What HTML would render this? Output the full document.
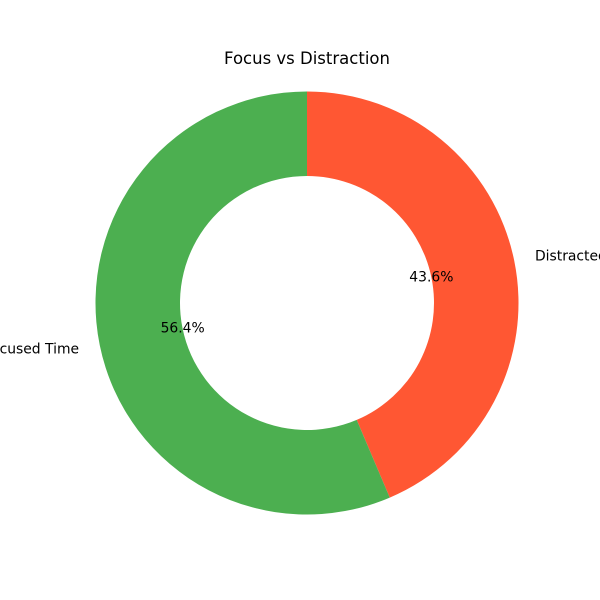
<!DOCTYPE html>
<html><head><meta charset="utf-8"><style>
html,body{margin:0;padding:0;background:#fff;}
svg{display:block;font-family:"DejaVu Sans","Liberation Sans",sans-serif;}
</style></head><body>
<svg id="chart" width="600" height="600" viewBox="0 0 600 600">
<text x="307" y="64" text-anchor="middle" font-size="16.5" fill="#000">Focus vs Distraction</text>
<g id="slices"></g>
</svg>
<script>
const categories = ["Distracted Time", "Focused Time"];
const values = [43.6, 56.4];
const colors = ["#FF5733", "#4CAF50"];

const cx = 307, cy = 303, R = 211.5, r = 127;
const total = values.reduce((a, b) => a + b, 0);
const g = document.getElementById('slices');
const ns = 'http://www.w3.org/2000/svg';
function pt(rad, ang) { return [cx + rad * Math.cos(ang), cy - rad * Math.sin(ang)]; }
let start = Math.PI / 2;
values.forEach((v, i) => {
  const sweep = v / total * 2 * Math.PI;
  const end = start - sweep;
  const large = sweep > Math.PI ? 1 : 0;
  const [x1, y1] = pt(R, start), [x2, y2] = pt(R, end);
  const [x3, y3] = pt(r, end), [x4, y4] = pt(r, start);
  const p = document.createElementNS(ns, 'path');
  p.setAttribute('d', `M${x1},${y1} A${R},${R} 0 ${large} 1 ${x2},${y2} L${x3},${y3} A${r},${r} 0 ${large} 0 ${x4},${y4} Z`);
  p.setAttribute('fill', colors[i]);
  
  
  g.appendChild(p);
  const mid = (start + end) / 2;
  const [lx, ly] = pt(R * 1.1, mid);
  const t = document.createElementNS(ns, 'text');
  t.setAttribute('x', lx); t.setAttribute('y', ly + 4);
  t.setAttribute('font-size', '13.9');
  t.setAttribute('text-anchor', Math.cos(mid) >= 0 ? 'start' : 'end');
  t.textContent = categories[i];
  
  
  g.appendChild(t);
  const [px, py] = pt(R * 0.6, mid);
  const tp = document.createElementNS(ns, 'text');
  tp.setAttribute('x', px); tp.setAttribute('y', py + 4);
  tp.setAttribute('font-size', '13.9');
  tp.setAttribute('text-anchor', 'middle');
  tp.textContent = (v / total * 100).toFixed(1) + '%';
  
  
  g.appendChild(tp);
  start = end;
});
</script>
</body></html>
